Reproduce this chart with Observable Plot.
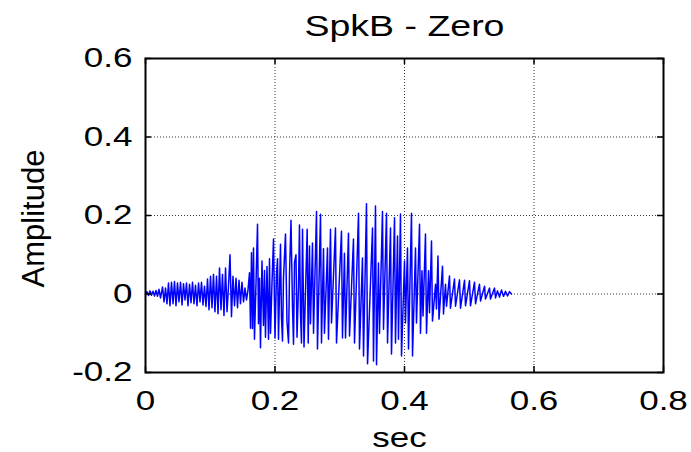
<!DOCTYPE html>
<html><head><meta charset="utf-8">
<script src="https://cdn.jsdelivr.net/npm/d3@7"></script>
<script src="https://cdn.jsdelivr.net/npm/@observablehq/plot@0.6"></script>
<style>body{margin:0;background:#fff}</style>
</head><body><div id="chart"></div>
<script>
const chartTitle = "SpkB - Zero";
const xLabel = "sec";
const yLabel = "Amplitude";
const xTicks = [0, 0.2, 0.4, 0.6, 0.8];
const xTickLabels = ["0", "0.2", "0.4", "0.6", "0.8"];
const yTicks = [-0.2, 0, 0.2, 0.4, 0.6];
const yTickLabels = ["-0.2", "0", "0.2", "0.4", "0.6"];

// waveform extrema (seconds, amplitude)
const waveTime = [
0.0000,0.0023,0.0046,0.0069,0.0093,0.0116,0.0139,0.0162,0.0185,0.0208,0.0232,
0.0263,0.0286,0.0309,0.0332,
0.0355,0.0378,0.0402,0.0425,0.0448,0.0471,0.0494,0.0517,0.0541,0.0564,0.0587,0.0610,0.0633,0.0656,0.0680,0.0703,0.0726,0.0749,0.0772,0.0795,0.0819,0.0842,0.0865,0.0888,0.0911,0.0934,
0.0958,0.0981,0.1004,0.1027,0.1050,0.1073,0.1097,0.1120,0.1143,0.1166,0.1189,0.1212,0.1236,0.1259,0.1282,0.1305,0.1328,
0.1351,0.1375,0.1398,0.1421,0.1444,0.1467,0.1490,0.1514,0.1537,0.1560,0.1583,
0.1606,0.1622,0.1637,0.1653,0.1668,0.1683,0.1707,0.1730,0.1745,0.1761,0.1776,0.1799,0.1822,0.1838,0.1853,0.1876,0.1900,0.1915,0.1931,0.1954,0.1977,0.2000,0.2023,0.2039,0.2054,0.2069,0.2085,0.2100,0.2116,0.2131,0.2162,0.2185,0.2209,0.2224,0.2247,0.2270,0.2286,0.2301,0.2324,0.2340,0.2363,0.2378,0.2394,0.2409,0.2425,0.2448,
0.2497,0.2513,0.2533,0.2548,0.2579,0.2595,0.2641,0.2656,0.2703,0.2718,0.2749,0.2764,0.2811,0.2826,0.2857,0.2873,0.2934,0.2950,0.3027,0.3042,
0.3073,0.3089,0.3135,0.3151,0.3212,0.3228,0.3290,0.3305,0.3351,0.3367,0.3413,0.3429,0.3506,0.3521,0.3552,0.3568,0.3598,0.3614,0.3660,0.3676,
0.3722,0.3738,0.3784,0.3799,0.3846,0.3861,0.3892,0.3907,0.3938,0.3954,0.4000,0.4015,0.4046,0.4062,0.4108,0.4124,0.4170,0.4185,0.4232,0.4247,
0.4270,0.4286,0.4324,0.4340,0.4371,0.4386,0.4417,0.4432,0.4479,0.4494,0.4517,0.4533,0.4587,0.4602,0.4633,0.4649,0.4695,0.4710,
0.4772,0.4788,0.4849,0.4865,0.4927,0.4942,0.5004,0.5019,0.5081,0.5097,0.5158,0.5174,0.5236,0.5251,0.5313,0.5328,0.5390,0.5406,
0.5436,0.5467,0.5498,0.5529,0.5560,0.5591,0.5622,0.5653
];
const waveAmp = [
0,0.006,-0.004,0.008,-0.003,0.007,-0.005,0.009,-0.006,0.012,-0.010,
0.018,-0.020,0.015,-0.025,
0.028,-0.030,0.030,-0.025,0.032,-0.030,0.028,-0.020,0.030,-0.028,0.026,-0.015,0.028,-0.030,0.025,-0.022,0.030,-0.025,0.022,-0.030,0.028,-0.020,0.030,-0.028,0.020,-0.032,
0.038,-0.040,0.045,-0.035,0.050,-0.045,0.045,-0.050,0.066,-0.040,0.050,-0.055,0.066,-0.045,0.020,0.100,-0.058,
0.045,-0.030,0.040,-0.035,0.035,-0.025,0.030,-0.020,0.015,-0.015,0.010,
0.054,-0.087,0.105,-0.088,0.117,-0.115,0.030,0.178,-0.076,0.040,-0.137,0.084,-0.080,0.060,-0.110,0.070,-0.115,0.090,-0.100,0.030,0.140,-0.112,0.050,0.090,-0.115,0.000,0.127,-0.060,-0.120,0.040,0.153,-0.070,-0.125,0.050,0.188,-0.030,-0.128,0.080,0.100,-0.110,0.020,0.176,-0.050,-0.125,0.165,-0.135,
0.165,-0.125,0.122,-0.076,0.130,-0.100,0.210,-0.140,0.203,-0.125,0.115,-0.100,0.117,-0.115,0.165,-0.074,0.168,-0.125,0.160,-0.112,
0.104,-0.112,0.155,-0.107,0.140,-0.125,0.206,-0.140,0.092,-0.158,0.230,-0.178,0.168,-0.171,0.224,-0.180,0.079,-0.100,0.210,-0.090,
0.206,-0.125,0.168,-0.153,0.194,-0.125,0.148,-0.115,0.204,-0.158,0.084,-0.074,0.117,-0.140,0.206,-0.158,0.117,-0.074,0.178,-0.100,
0.059,-0.056,0.153,-0.100,0.059,-0.048,0.135,-0.069,0.025,-0.038,0.097,-0.064,0.071,-0.051,0.025,-0.031,0.046,-0.036,
0.038,-0.031,0.036,-0.036,0.035,-0.030,0.034,-0.030,0.030,-0.025,0.025,-0.018,0.020,-0.013,0.015,-0.013,0.015,-0.010,
0.008,-0.008,0.010,-0.006,0.007,-0.005,0.006,0.000
];

const wave = waveTime.map((t, i) => ({t, a: waveAmp[i]}));

const W = 691, H = 452, mL = 145, mR = 28, mT = 58, mB = 80;
const fw = W - mL - mR, fh = H - mT - mB;
const tickLen = 6;
const gridStyle = {stroke: "#333", strokeDasharray: "1,2", strokeWidth: 1};
const tickStyle = {stroke: "#000", strokeWidth: 1.5};

const svg = Plot.plot({
  width: W, height: H,
  marginLeft: mL, marginRight: mR, marginTop: mT, marginBottom: mB,
  style: {fontFamily: "'Liberation Sans', Arial, sans-serif", fontSize: "28px", color: "#000", background: "#fff"},
  x: {domain: [0, 0.8], ticks: xTicks, tickFormat: d => xTickLabels[xTicks.indexOf(d)], tickSize: 0, tickPadding: 18, label: null},
  y: {domain: [-0.2, 0.6], ticks: yTicks, tickFormat: d => yTickLabels[yTicks.indexOf(d)], tickSize: 0, tickPadding: 13, label: null},
  marks: [
    Plot.ruleX(xTicks, gridStyle),
    Plot.ruleY(yTicks, gridStyle),
    Plot.line(wave, {x: "t", y: "a", stroke: "#0000ff", strokeWidth: 1.5}),
    Plot.ruleX(xTicks, {...tickStyle, insetTop: fh - tickLen}),
    Plot.ruleX(xTicks, {...tickStyle, insetBottom: fh - tickLen}),
    Plot.ruleY(yTicks, {...tickStyle, insetRight: fw - tickLen}),
    Plot.ruleY(yTicks, {...tickStyle, insetLeft: fw - tickLen}),
    Plot.frame({stroke: "#000", strokeWidth: 2}),
    Plot.text([chartTitle], {text: d => d, frameAnchor: "top", dy: -23, lineAnchor: "bottom", fontSize: 30}),
    Plot.text([xLabel], {text: d => d, frameAnchor: "bottom", dy: 74, dx: -5, lineAnchor: "bottom"}),
    Plot.text([yLabel], {text: d => d, frameAnchor: "left", textAnchor: "middle", rotate: -90, dx: -102, dy: 3, lineAnchor: "bottom", fontSize: 31})
  ]
});

// widen horizontal glyphs (reference text is horizontally stretched)
const sx = 1.25;
d3.select(svg).selectAll("text").each(function () {
  const t = this.getAttribute("transform") || "";
  if (t.includes("rotate")) return;
  const x = +(this.getAttribute("x") || 0);
  this.setAttribute("transform", `${t} translate(${x},0) scale(${sx},1) translate(${-x},0)`);
});

document.getElementById("chart").appendChild(svg);
</script>
</body></html>
